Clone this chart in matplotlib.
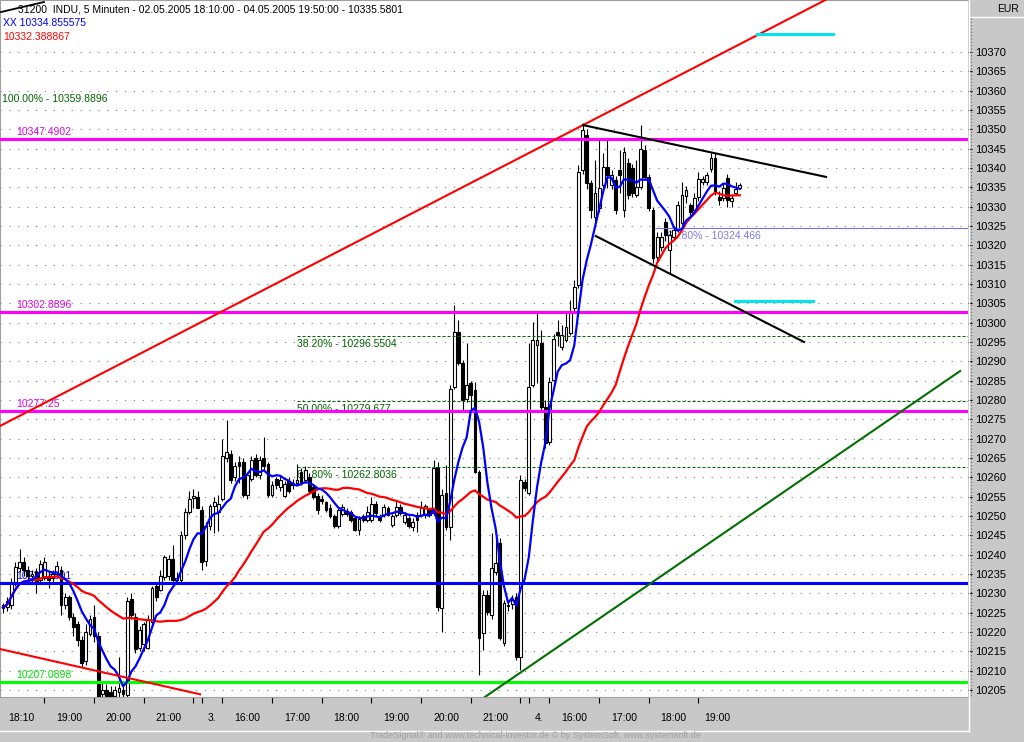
import numpy as np
import pandas as pd
import matplotlib.pyplot as plt
from matplotlib.lines import Line2D

W, H = 1024, 742

# 5-minute INDU bars, 02.05.2005 18:10 - 04.05.2005 19:50
opens = [10226.9, 10226.5, 10227.0, 10232.6, 10236.5, 10238.0, 10236.0, 10234.5, 10235.5, 10233.5,
         10234.0, 10234.5, 10234.0, 10235.0, 10236.0, 10227.0, 10229.0, 10224.0, 10222.0, 10218.0,
         10212.5, 10219.5, 10224.0, 10219.0, 10204.0, 10205.0, 10204.5, 10203.5, 10204.5, 10205.0,
         10203.7, 10228.5, 10224.0, 10216.0, 10217.0, 10216.0, 10222.5, 10232.0, 10231.0, 10234.3,
         10234.5, 10239.0, 10233.5, 10233.5, 10245.0, 10251.0, 10254.7, 10255.0, 10251.5, 10238.5,
         10247.5, 10252.5, 10251.0, 10254.5, 10265.0, 10266.0, 10260.0, 10264.0, 10264.0, 10255.5,
         10259.5, 10265.0, 10260.5, 10265.0, 10263.5, 10255.5, 10259.5, 10257.5, 10255.3, 10259.0,
         10258.5, 10258.5, 10261.5, 10259.3, 10260.0, 10257.5, 10255.2, 10254.5, 10253.5, 10252.0,
         10250.0, 10247.5, 10250.5, 10251.2, 10251.0, 10249.5, 10246.5, 10250.0, 10249.0, 10249.0,
         10253.2, 10250.0, 10250.3, 10252.0, 10247.7, 10250.3, 10252.3, 10248.5, 10249.5, 10247.2,
         10250.3, 10250.3, 10250.3, 10251.6, 10250.8, 10262.7, 10226.2, 10256.0, 10247.2, 10283.4,
         10297.6, 10289.6, 10280.3, 10284.4, 10282.6, 10261.4, 10219.8, 10229.6, 10224.4, 10235.5,
         10243.0, 10217.2, 10226.8, 10227.3, 10229.0, 10213.5, 10258.8, 10255.9, 10283.9, 10294.2,
         10294.8, 10278.2, 10269.2, 10285.2, 10297.6, 10293.7, 10295.5, 10297.4, 10303.8, 10309.7,
         10339.5, 10348.5, 10336.1, 10327.3, 10329.6, 10335.6, 10340.3, 10335.6, 10336.9, 10339.5,
         10329.1, 10341.3, 10340.0, 10333.0, 10335.1, 10344.7, 10337.7, 10329.1, 10317.0, 10319.5,
         10326.0, 10318.8, 10322.2, 10324.0, 10325.8, 10332.7, 10330.4, 10329.1, 10332.5, 10336.4,
         10336.4, 10339.8, 10342.6, 10332.5, 10332.2, 10337.4, 10331.5, 10333.5, 10334.8]
highs = [10227.5, 10229.0, 10234.0, 10238.0, 10241.5, 10239.5, 10237.0, 10236.0, 10236.5, 10238.6,
         10239.5, 10235.5, 10236.0, 10238.3, 10237.0, 10230.0, 10229.5, 10225.0, 10222.8, 10219.0,
         10222.0, 10224.5, 10227.0, 10220.0, 10207.0, 10206.5, 10206.0, 10206.0, 10213.5, 10207.0,
         10229.0, 10230.2, 10225.0, 10221.5, 10222.5, 10224.5, 10232.0, 10233.0, 10236.0, 10240.0,
         10240.0, 10242.5, 10235.5, 10246.0, 10252.0, 10256.5, 10257.0, 10256.5, 10252.5, 10248.5,
         10253.0, 10255.0, 10255.5, 10270.0, 10274.8, 10267.0, 10264.0, 10265.5, 10265.0, 10261.5,
         10265.5, 10266.0, 10265.5, 10270.5, 10264.0, 10259.0, 10260.0, 10260.5, 10259.0, 10260.0,
         10259.5, 10263.5, 10262.5, 10263.0, 10261.0, 10258.0, 10256.0, 10255.5, 10254.0, 10253.0,
         10250.5, 10252.0, 10253.0, 10252.0, 10251.5, 10250.0, 10250.0, 10250.5, 10252.5, 10254.9,
         10254.0, 10250.5, 10253.0, 10252.5, 10250.5, 10253.8, 10253.0, 10251.0, 10250.0, 10249.5,
         10251.0, 10253.8, 10253.0, 10252.0, 10264.5, 10264.0, 10257.0, 10263.2, 10284.0, 10304.6,
         10300.7, 10290.3, 10294.8, 10285.0, 10284.7, 10262.0, 10231.0, 10231.0, 10245.6, 10244.3,
         10244.3, 10228.3, 10228.3, 10229.5, 10230.0, 10260.5, 10259.5, 10294.8, 10300.1, 10302.8,
         10298.0, 10280.0, 10286.0, 10297.0, 10300.7, 10299.4, 10303.0, 10305.9, 10311.0, 10340.8,
         10351.6, 10350.0, 10337.0, 10342.1, 10347.2, 10343.9, 10347.2, 10339.5, 10338.0, 10344.7,
         10345.5, 10342.5, 10341.0, 10342.1, 10351.1, 10346.0, 10338.5, 10330.0, 10323.5, 10323.5,
         10327.0, 10324.0, 10325.0, 10331.5, 10336.5, 10335.3, 10331.0, 10333.5, 10339.0, 10338.0,
         10339.0, 10344.0, 10344.0, 10334.0, 10336.0, 10338.5, 10333.0, 10336.4, 10336.0]
lows = [10225.0, 10225.5, 10226.0, 10232.0, 10235.5, 10234.5, 10233.5, 10233.0, 10230.0, 10233.0,
        10233.5, 10231.5, 10233.0, 10234.5, 10224.5, 10226.0, 10223.0, 10219.0, 10216.5, 10211.0,
        10211.5, 10219.0, 10217.5, 10200.0, 10201.0, 10201.0, 10200.0, 10201.5, 10202.0, 10201.5,
        10203.0, 10223.5, 10214.5, 10215.0, 10215.0, 10215.5, 10221.5, 10228.0, 10230.5, 10233.5,
        10233.5, 10232.0, 10232.5, 10233.0, 10244.0, 10250.5, 10252.0, 10252.0, 10236.0, 10237.0,
        10246.5, 10245.5, 10246.0, 10254.0, 10264.0, 10258.5, 10259.0, 10258.5, 10255.0, 10254.5,
        10259.0, 10260.0, 10259.5, 10262.0, 10255.0, 10255.0, 10257.0, 10256.5, 10254.8, 10256.0,
        10257.0, 10258.0, 10258.0, 10258.5, 10256.0, 10254.3, 10250.5, 10253.0, 10251.0, 10249.5,
        10247.0, 10247.0, 10250.0, 10250.0, 10248.5, 10246.0, 10245.0, 10248.5, 10248.5, 10248.5,
        10250.0, 10248.5, 10249.8, 10250.0, 10247.2, 10249.8, 10250.3, 10248.0, 10247.0, 10246.2,
        10245.8, 10249.8, 10249.5, 10249.8, 10250.2, 10225.5, 10220.0, 10246.5, 10243.8, 10282.8,
        10289.0, 10277.4, 10279.5, 10277.0, 10261.0, 10208.9, 10215.4, 10224.5, 10223.5, 10234.8,
        10217.9, 10216.5, 10225.5, 10226.0, 10212.8, 10210.2, 10256.5, 10255.4, 10283.4, 10284.4,
        10277.4, 10267.5, 10268.4, 10284.6, 10294.0, 10293.0, 10295.0, 10296.8, 10302.8, 10309.0,
        10338.5, 10334.6, 10327.0, 10325.3, 10328.5, 10334.5, 10334.8, 10334.5, 10328.0, 10333.5,
        10327.3, 10332.0, 10332.5, 10332.4, 10334.5, 10336.9, 10329.0, 10315.4, 10315.9, 10318.5,
        10321.0, 10312.8, 10321.5, 10323.5, 10325.3, 10331.0, 10327.8, 10328.5, 10331.5, 10335.6,
        10335.5, 10339.0, 10333.0, 10330.5, 10331.5, 10329.9, 10329.9, 10333.0, 10334.5]
closes = [10226.3, 10228.0, 10233.0, 10236.8, 10238.1, 10236.0, 10234.5, 10235.0, 10233.0, 10237.5,
          10238.0, 10233.5, 10235.0, 10237.0, 10227.0, 10229.0, 10224.0, 10221.3, 10218.0, 10212.0,
          10220.0, 10223.5, 10219.0, 10203.0, 10205.0, 10203.5, 10203.0, 10205.0, 10205.5, 10204.0,
          10228.0, 10224.3, 10215.5, 10220.5, 10222.0, 10223.5, 10231.5, 10229.0, 10234.5, 10239.5,
          10239.0, 10233.5, 10234.0, 10245.0, 10251.0, 10254.3, 10255.3, 10252.2, 10238.0, 10247.5,
          10252.5, 10253.5, 10253.0, 10265.5, 10266.5, 10259.3, 10263.0, 10263.0, 10255.5, 10260.5,
          10264.5, 10260.5, 10264.5, 10263.0, 10255.5, 10258.0, 10258.0, 10259.3, 10258.3, 10256.5,
          10258.0, 10259.3, 10258.7, 10262.0, 10256.5, 10254.8, 10251.5, 10254.0, 10251.5, 10250.0,
          10247.5, 10251.5, 10252.3, 10250.5, 10249.0, 10246.5, 10249.2, 10249.0, 10251.0, 10253.2,
          10250.8, 10249.0, 10252.3, 10250.3, 10250.0, 10252.3, 10250.8, 10250.3, 10247.5, 10248.5,
          10249.0, 10252.0, 10252.5, 10250.3, 10262.4, 10226.5, 10255.4, 10247.2, 10282.8, 10297.6,
          10289.6, 10280.0, 10283.9, 10281.3, 10261.4, 10218.5, 10229.6, 10225.2, 10236.6, 10237.9,
          10218.5, 10227.5, 10227.0, 10228.3, 10213.5, 10259.3, 10257.2, 10283.4, 10295.5, 10295.5,
          10278.2, 10268.9, 10284.7, 10295.8, 10296.8, 10296.8, 10298.9, 10302.5, 10309.2, 10339.0,
          10349.8, 10336.1, 10329.1, 10333.5, 10334.8, 10340.3, 10338.2, 10338.2, 10329.1, 10338.2,
          10344.2, 10333.0, 10333.5, 10335.1, 10344.9, 10337.7, 10329.6, 10316.7, 10322.2, 10322.2,
          10322.7, 10322.7, 10324.0, 10330.4, 10333.0, 10334.3, 10328.6, 10332.2, 10337.2, 10337.2,
          10338.2, 10342.6, 10333.8, 10331.7, 10334.8, 10331.7, 10332.2, 10334.5, 10335.6]

# horizontal levels
magenta_levels = [10347.4902, 10302.8896, 10277.25]
magenta_texts = ['10347.4902', '10302.8896', '10277.25']
blue_level = 10232.8001
green_level = 10207.0898
fib_levels = [10296.5504, 10279.677, 10262.8036]
fib_names = ['38.20%', '50.00%', '61.80%']
fib_top = 10359.8896
fib_day4 = 10324.466

# drawn lines as (bar, price) points
red_up = [(-0.7, 10273.3), (140.1, 10351.1)]
red_down = [(-0.7, 10215.6), (47.6, 10203.9)]
green_up = [(116.4, 10203.2), (231.2, 10287.5)]
chan_top = [(140.1, 10351.1), (198.8, 10337.7)]
chan_bot = [(143.2, 10322.4), (193.5, 10295.0)]
cyan_top = [(182.1, 10374.7), (200.5, 10374.7)]
cyan_low = [(176.8, 10305.6), (195.7, 10305.6)]

# x axis
tick_bars = [10, 22, 34, 46, 48, 53, 65, 77, 89, 101, 113, 125, 127, 132, 144, 156, 168]
label_spans = [(-1, 10), (10, 22), (22, 34), (34, 46), (48, 53), (53, 65), (65, 77), (77, 89),
               (89, 101), (101, 113), (113, 125), (127, 132), (132, 144), (144, 156), (156, 168), (168, 177)]
tick_labels = ['18:10', '19:00', '20:00', '21:00', '3.', '16:00', '17:00', '18:00',
               '19:00', '20:00', '21:00', '4.', '16:00', '17:00', '18:00', '19:00']

plt.rcParams['font.family'] = ['Liberation Sans', 'DejaVu Sans']
FS = 7.5

fig = plt.figure(figsize=(W / 100, H / 100), dpi=100, facecolor='#c8c8c8')
ax = fig.add_axes([0, 1 - 697 / H, 968 / W, 697 / H])
ax.set_facecolor('white')
ax.set_xlim(-0.725, 233.1)
ax.set_ylim(10203.2, 10383.45)


def bar_x(px):
    return (px - 3) / 4.14


def fig_line(x1, y1, x2, y2, **kw):
    fig.add_artist(Line2D([x1 / W, x2 / W], [1 - y1 / H, 1 - y2 / H], transform=fig.transFigure, **kw))


# grid + right price scale
ax.set_yticks(np.arange(10205, 10371, 5))
ax.grid(axis='y', linestyle=(0, (1, 7)), color='#808080', lw=0.8, zorder=0)
ax.yaxis.tick_right()
ax.tick_params(axis='y', direction='out', length=3, pad=2, labelsize=8, colors='black')
ax.set_xticks(tick_bars)
ax.set_xticklabels([])
ax.tick_params(axis='x', direction='out', length=4, width=0.8, colors='black')
for s in ['top', 'left', 'bottom']:
    ax.spines[s].set_color('#a0a0a0')
    ax.spines[s].set_linewidth(0.8)
ax.spines['right'].set_visible(False)

for (a, b), lab in zip(label_spans, tick_labels):
    ax.text((a + b) / 2, -0.023, lab, transform=ax.get_xaxis_transform(), ha='center', va='top',
            fontsize=FS, clip_on=False)

# candles
x = np.arange(len(closes))
o, h, l, c = map(np.array, (opens, highs, lows, closes))
up = c >= o
ax.vlines(x, l, h, color='black', lw=0.8, zorder=2)
bottom = np.minimum(o, c)
height = np.maximum(np.abs(c - o), 0.3)
ax.bar(x[up], height[up], bottom=bottom[up], width=0.68, color='white', edgecolor='black', lw=0.8, zorder=3)
ax.bar(x[~up], height[~up], bottom=bottom[~up], width=0.68, color='black', edgecolor='black', lw=0.8, zorder=3)

# moving averages
s = pd.Series(closes)
ax.plot(x, s.rolling(34, min_periods=1).mean(), color='#ff0000', lw=1.6, zorder=5)
ax.plot(x, s.rolling(8, min_periods=1).mean(), color='#0000ff', lw=1.6, zorder=5)

# horizontal levels
for lv, txt in zip(magenta_levels, magenta_texts):
    ax.axhline(lv, color='#ff00ff', lw=2.2, zorder=4)
    ax.text(bar_x(16), lv + 0.5, txt, color='#e000e0', fontsize=FS, va='bottom', zorder=1)
ax.axhline(blue_level, color='#0000ff', lw=2.2, zorder=4)
ax.text(bar_x(16), blue_level + 0.5, f'{blue_level:.4f}', color='#0000ff', fontsize=FS, va='bottom', zorder=1)
ax.axhline(green_level, color='#00ff00', lw=2.2, zorder=4)
ax.text(bar_x(16), green_level + 0.5, f'{green_level:.4f}', color='#00dd00', fontsize=FS, va='bottom', zorder=1)

# fibonacci
fib_x0 = bar_x(297)
for lv, nm in zip(fib_levels, fib_names):
    ax.hlines(lv, fib_x0, 233.1, color='#006400', lw=0.75, linestyle=(0, (2.9, 1.9)), zorder=4)
    ax.text(fib_x0, lv - 0.8, f'{nm} - {lv}', color='#006400', fontsize=FS, va='top', zorder=1)
ax.text(bar_x(2), fib_top - 0.8, f'100.00% - {fib_top}', color='#006400', fontsize=FS, va='top', zorder=1)
ax.hlines(fib_day4, bar_x(655), 233.1, color='#7070e8', lw=0.75, zorder=4)
ax.text(bar_x(667), fib_day4 - 0.8, f'61.80% - {fib_day4}', color='#7b7be0', fontsize=FS, va='top', zorder=1)


def seg(pts, extend=None, **kw):
    (x1, y1), (x2, y2) = pts
    if extend is not None:
        k = (y2 - y1) / (x2 - x1)
        x2, y2 = extend, y1 + k * (extend - x1)
    ax.plot([x1, x2], [y1, y2], **kw)


seg(red_up, extend=240, color='#ff0000', lw=1.5, zorder=6)
seg(red_down, color='#ff0000', lw=1.5, zorder=6)
seg(green_up, color='#007000', lw=1.5, zorder=6)
seg(chan_top, color='black', lw=1.5, zorder=6)
seg(chan_bot, color='black', lw=1.5, zorder=6)
seg(cyan_top, color='#00e5ee', lw=2.2, zorder=6)
seg(cyan_low, color='#00e5ee', lw=2.2, zorder=6)

# header texts
fig.text(18 / W, 1 - 9 / H, '31200  INDU, 5 Minuten - 02.05.2005 18:10:00 - 04.05.2005 19:50:00 - 10335.5801',
         fontsize=FS, va='center', color='black')
fig.text(3 / W, 1 - 23 / H, 'XX 10334.855575', fontsize=FS, va='center', color='#0000ff')
fig.text(3 / W, 1 - 37 / H, '10332.388867', fontsize=FS, va='center', color='#ff0000')
fig_line(1, 12, 44, 2, color='black', lw=1.3)

# frame of the panels
fig.text(1008 / W, 1 - 9 / H, 'EUR', fontsize=FS, ha='center', va='center')
fig_line(969, 0, 969, 731, color='white', lw=1)
fig_line(969, 17, 1024, 17, color='white', lw=1)
fig_line(971, 18, 971, 697, color='#606060', lw=0.8, linestyle=(0, (1, 2)))
fig_line(0, 731, 969, 731, color='white', lw=1)
fig.text(535 / W, 1 - 736 / H, 'TradeSignal® and www.technical-investor.de © by SystemSoft, www.systemsoft.de',
         fontsize=6.5, ha='center', va='center', color='#a0a0a0')

fig.savefig('out.png', dpi=100, facecolor=fig.get_facecolor())
